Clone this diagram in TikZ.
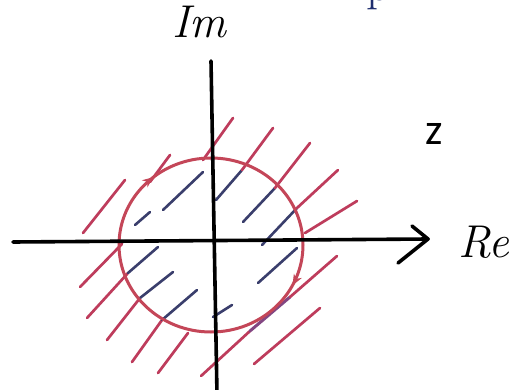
\documentclass[tikz,border=0pt]{standalone}
\usepackage{fontspec}
\newfontfamily\zfont{Carlito}
\usetikzlibrary{decorations.markings,arrows.meta}
\definecolor{hatchred}{RGB}{190,60,92}
\definecolor{ringred}{RGB}{196,70,88}
\definecolor{hatchblue}{RGB}{58,62,108}
\definecolor{hatchpurple}{RGB}{130,70,130}
\definecolor{navy}{RGB}{30,45,110}
\tikzset{
  axisline/.style={line width=3.6pt, black, line cap=round, line join=round},
  redhatch/.style={line width=2.7pt, hatchred, line cap=round},
  bluehatch/.style={line width=2.6pt, hatchblue, line cap=round},
  purplehatch/.style={line width=3pt, hatchpurple, line cap=round},
  ring/.style={line width=3pt, ringred,
    postaction={decorate},
    decoration={markings,
      mark=at position 0.075 with {\arrow[ringred,line width=1pt]{Stealth[length=11pt,width=9pt]}},
      mark=at position 0.64 with {\arrow[ringred,line width=1pt]{Stealth[length=11pt,width=9pt]}}}},
  lbl/.style={inner sep=0pt, anchor=base west}
}
\begin{document}
\begin{tikzpicture}[x=1pt,y=-1pt]
\useasboundingbox (0,0) rectangle (529,390);
\clip (0,0) rectangle (529,390);
\fill[white] (0,0) rectangle (529,390);

% partial title glyph at the top edge
\node[lbl, text=navy, font=\fontsize{48}{50}\selectfont] (ptxt) at (366,0.5) {p};

% hatch lines outside (red) and inside (blue)
\coordinate (c) at (211,245);
% upper right
\draw[redhatch] (203,160) -- (233,118);
\draw[bluehatch] (216,200) -- (242,170); \draw[redhatch] (242,170) -- (273,128);
\draw[bluehatch] (243,222) -- (275,188); \draw[redhatch] (275,188) -- (310,143);
\draw[bluehatch] (262,245) -- (297,208); \draw[redhatch] (297,208) -- (338,170);
\draw[redhatch] (305,233) -- (357,201);
% lower right
\draw[bluehatch] (258,283) -- (297,248);
\draw[redhatch] (201,376) -- (250,331);
\draw[purplehatch] (250,331) -- (290,297);
\draw[redhatch] (290,297) -- (337,256);
\draw[redhatch] (254,364) -- (320,308);
% upper left
\draw[redhatch] (83,233) -- (125,180);
\draw[redhatch] (150,182) -- (170,155);
\draw[bluehatch] (163,210) -- (203,172);
\draw[bluehatch] (135,225) -- (150,212);
% lower left
\draw[redhatch] (80,287) -- (122,244);
\draw[redhatch] (87,318) -- (128,273); \draw[bluehatch] (128,273) -- (158,247);
\draw[redhatch] (107,340) -- (140,298); \draw[bluehatch] (140,298) -- (173,272);
\draw[redhatch] (132,362) -- (162,320); \draw[bluehatch] (162,320) -- (197,290);
\draw[redhatch] (158,373) -- (188,333);
\draw[bluehatch] (213,317) -- (232,305);

% unit circle with direction arrows
\draw[ring] (c) ellipse [x radius=92, y radius=87];

% axes
\coordinate (xs) at (13,242);
\coordinate (xe) at (428,239);
\coordinate (ys) at (211,61);
\coordinate (ye) at (217,395);
\draw[axisline] (xs) -- (xe);
\draw[axisline] (412,226) -- (xe) -- (398,263);
\draw[axisline] (ys) -- (ye);

% labels
\node[lbl, font=\fontsize{46}{50}\selectfont\itshape] (im) at (172,38) {Im};
\node[lbl, font=\fontsize{46}{50}\selectfont\itshape] (re) at (458,257) {Re};
\node[lbl, font=\zfont\fontsize{44}{48}\selectfont] (z) at (425,145) {z};
\end{tikzpicture}
\end{document}
